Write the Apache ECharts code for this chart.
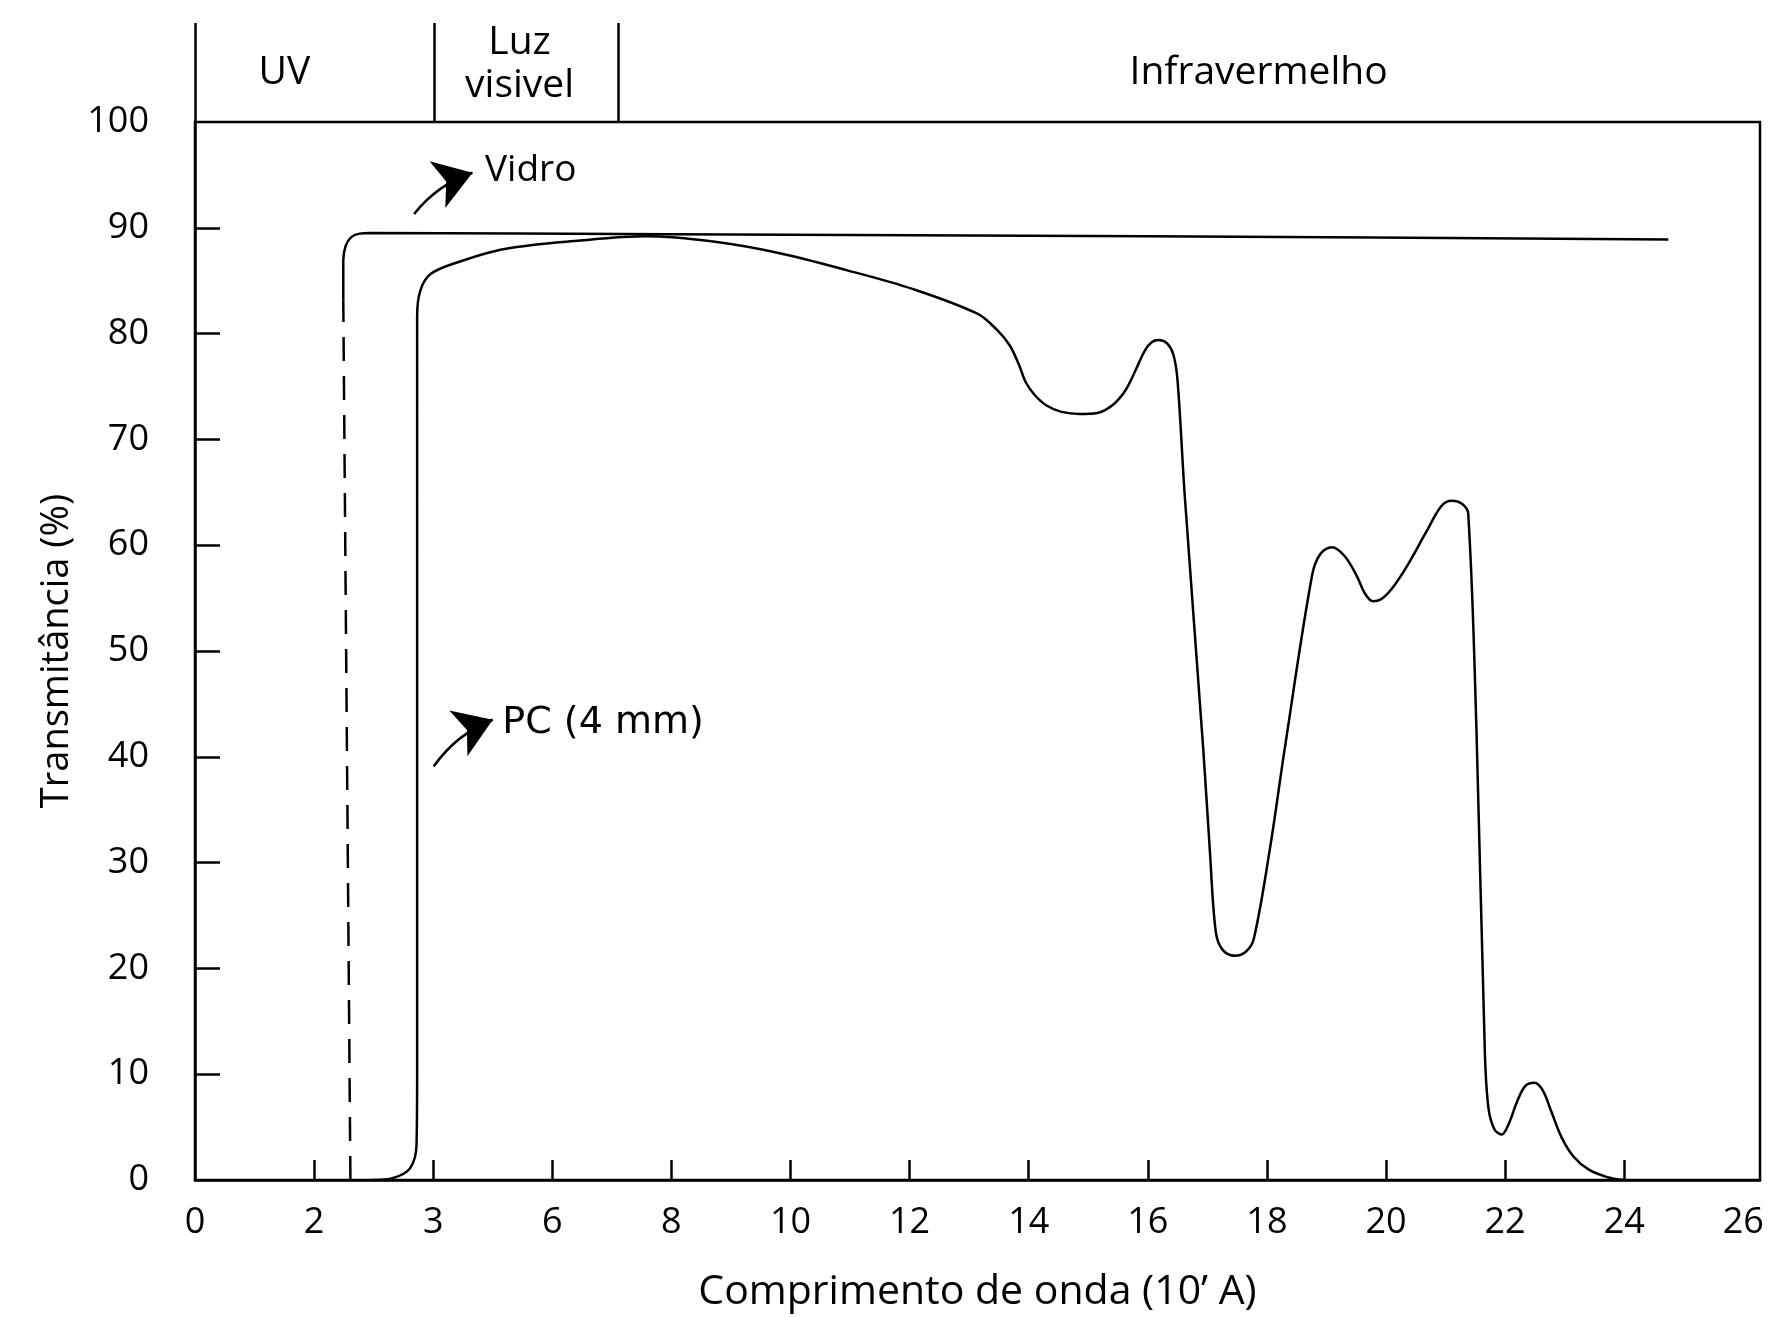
<!DOCTYPE html>
<html>
<head>
<meta charset="utf-8">
<title>Transmitância – Vidro e PC</title>
<script src="https://cdn.jsdelivr.net/npm/echarts@6/dist/echarts.min.js"></script>
<style>
  html, body { margin: 0; padding: 0; background: #fff; }
  #chart { width: 1789px; height: 1318px; }
</style>
</head>
<body>
<div id="chart"></div>
<script>
// Wavelength axis: tick positions and the labels printed under them
const xTickValues = [0, 2, 4, 6, 8, 10, 12, 14, 16, 18, 20, 22, 24, 26];
const xTickLabels = ['0', '2', '3', '6', '8', '10', '12', '14', '16', '18', '20', '22', '24', '26'];
const xMarkValues = [2, 4, 6, 8, 10, 12, 14, 16, 18, 20, 22, 24];
// Transmittance axis: inner tick marks (0 and 100 sit on the frame)
const yMarkValues = [10, 20, 30, 40, 50, 60, 70, 80, 90];

// Spectral bands shown in the header strip
const bandEdges = [0, 4.01, 7.11];
const bandLabels = ['UV', 'Luz\nvisivel', 'Infravermelho'];
const bandCenters = [[1.5, 0.5], [5.45, 0.58], [17.86, 0.5]];

// Glass (Vidro): dashed absorption edge, then solid plateau
const vidroEdge = [[2.61, 0], [2.49, 83.2]];
const vidroCurve = [
  [2.49, 83.2], [2.49, 86.9], [2.53, 88.3], [2.62, 89.1], [2.76, 89.45],
  [2.94, 89.5], [8.0, 89.4], [16.0, 89.2], [24.74, 88.9]
];

// Polycarbonate, 4 mm (PC)
const pcCurve = [
  [2.97, 0], [3.33, 0.2], [3.61, 1.1], [3.72, 3.3], [3.73, 10], [3.73, 81.6],
  [3.78, 84.0], [3.95, 85.6], [4.39, 86.7], [5.2, 88.0], [6.47, 88.8],
  [7.58, 89.2], [8.7, 88.7], [9.82, 87.6], [10.94, 86.0], [12.06, 84.2],
  [13.13, 81.9], [13.46, 80.4], [13.68, 78.9], [13.84, 77.0], [13.95, 75.4],
  [14.1, 74.2], [14.3, 73.2], [14.55, 72.6], [14.86, 72.4], [15.15, 72.5],
  [15.4, 73.2], [15.62, 74.6], [15.8, 76.6], [15.95, 78.4], [16.07, 79.2],
  [16.18, 79.4], [16.32, 79.1], [16.43, 78.0], [16.5, 75.5], [16.62, 64.7],
  [16.93, 40.8], [17.04, 31.3], [17.14, 23.5], [17.25, 21.8], [17.46, 21.2],
  [17.65, 21.6], [17.78, 22.8], [18.05, 31.3], [18.3, 40.8], [18.76, 57.2],
  [18.9, 59.2], [19.09, 59.8], [19.3, 59.0], [19.5, 57.2], [19.65, 55.4],
  [19.78, 54.7], [19.92, 54.9], [20.1, 55.9], [20.35, 58.0], [20.68, 61.3],
  [20.93, 63.7], [21.1, 64.2], [21.28, 63.9], [21.38, 63.0], [21.52, 42.3],
  [21.66, 12.0], [21.72, 6.8], [21.82, 4.8], [21.94, 4.3], [22.06, 5.3],
  [22.2, 7.4], [22.34, 8.9], [22.49, 9.2], [22.63, 8.5], [22.78, 6.4],
  [22.95, 4.0], [23.15, 2.2], [23.4, 1.0], [23.7, 0.3], [24.0, 0]
];

// Curve annotations: arrow start/end and label anchor (data units)
const vidroArrow = [[3.68, 91.3], [4.66, 95.2]];
const pcArrow = [[4.01, 39.1], [5.0, 43.5]];
const noteLabels = [[4.87, 95.4, 'Vidro'], [5.16, 43.2, 'PC (4 mm)']];

const INK = '#000';
const FONT = 'Open Sans';
const X_MAX = 26.28;

const chart = echarts.init(document.getElementById('chart'), null, { renderer: 'canvas' });

const lineBase = { type: 'line', symbol: 'none', silent: true, xAxisIndex: 0, yAxisIndex: 0 };

chart.setOption({
  animation: false,
  backgroundColor: '#fff',
  textStyle: { fontFamily: FONT, color: INK },
  grid: [
    { left: 195, right: 29, top: 122, bottom: 136, show: true, borderColor: INK, borderWidth: 2.5, backgroundColor: 'transparent' },
    { left: 195, right: 29, top: 23, height: 99, show: false }
  ],
  xAxis: [
    {
      type: 'value', gridIndex: 0, min: 0, max: X_MAX,
      axisLine: { show: true, lineStyle: { color: INK, width: 2.5 } },
      axisTick: { show: true, inside: true, length: 20, customValues: xMarkValues, lineStyle: { color: INK, width: 2.5 } },
      axisLabel: {
        show: true, customValues: xTickValues, margin: 25, fontSize: 36, color: INK, fontFamily: FONT,
        formatter: v => { const i = xTickValues.indexOf(v); return i >= 0 ? xTickLabels[i] : ''; }
      },
      splitLine: { show: false },
      name: 'Comprimento de onda (10’ A)', nameLocation: 'middle', nameGap: 92,
      nameTextStyle: { fontSize: 41, color: INK, fontFamily: FONT }
    },
    { type: 'value', gridIndex: 1, min: 0, max: X_MAX, show: false }
  ],
  yAxis: [
    {
      type: 'value', gridIndex: 0, min: 0, max: 100, interval: 10,
      axisLine: { show: true, lineStyle: { color: INK, width: 2.5 } },
      axisTick: { show: true, inside: true, length: 25, customValues: yMarkValues, lineStyle: { color: INK, width: 2.5 } },
      axisLabel: { margin: 46, fontSize: 36, color: INK, fontFamily: FONT },
      splitLine: { show: false },
      name: 'Transmitância (%)', nameLocation: 'middle', nameGap: 115,
      nameTextStyle: { fontSize: 38, color: INK, fontFamily: FONT }
    },
    { type: 'value', gridIndex: 1, min: 0, max: 1, show: false }
  ],
  series: [
    // Header strip: band dividers and band names
    {
      type: 'scatter', xAxisIndex: 1, yAxisIndex: 1, silent: true,
      symbolSize: 0, itemStyle: { opacity: 1 },
      data: bandCenters.map((c, i) => [c[0], c[1], bandLabels[i]]),
      label: {
        show: true, position: 'inside', formatter: p => p.value[2],
        fontSize: 39, lineHeight: 43, color: INK, fontFamily: FONT
      },
      markLine: {
        silent: true, symbol: 'none', label: { show: false },
        lineStyle: { color: INK, width: 2.5, type: 'solid', opacity: 1 },
        data: bandEdges.map(x => ({ xAxis: x }))
      }
    },
    // Vidro
    Object.assign({}, lineBase, {
      name: 'Vidro', data: vidroEdge, smooth: false,
      lineStyle: { color: INK, width: 2.5, type: [24, 15] }
    }),
    Object.assign({}, lineBase, {
      name: 'Vidro', data: vidroCurve, smooth: 0.3,
      lineStyle: { color: INK, width: 2.5 }
    }),
    // PC (4 mm)
    Object.assign({}, lineBase, {
      name: 'PC (4 mm)', data: pcCurve, smooth: 0.35,
      lineStyle: { color: INK, width: 2.5 }
    }),
    // Annotation arrows
    {
      type: 'lines', coordinateSystem: 'cartesian2d', xAxisIndex: 0, yAxisIndex: 0, silent: true,
      symbol: ['none', 'arrow'], symbolSize: 37,
      lineStyle: { color: INK, width: 2.5, curveness: 0.15, opacity: 1 },
      itemStyle: { color: INK },
      data: [{ coords: vidroArrow }, { coords: pcArrow }]
    },
    // Annotation texts: glass tag in the body face, PC tag in a wider face
    {
      type: 'scatter', xAxisIndex: 0, yAxisIndex: 0, silent: true,
      symbolSize: 0, itemStyle: { opacity: 1 },
      label: {
        show: true, position: 'right', distance: 0,
        formatter: p => p.value[2], color: INK
      },
      data: [
        { value: noteLabels[0], label: { fontSize: 37, fontFamily: FONT } },
        { value: noteLabels[1], label: { fontSize: 38, fontFamily: 'DejaVu Sans' } }
      ]
    }
  ]
});
</script>
</body>
</html>
